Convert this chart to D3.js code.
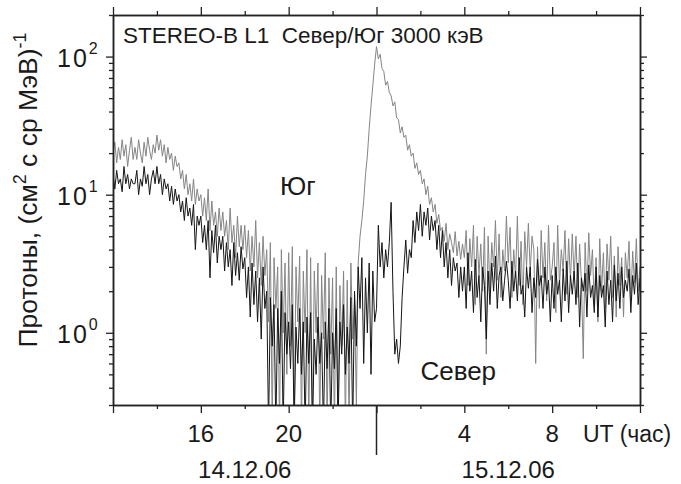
<!DOCTYPE html>
<html>
<head>
<meta charset="utf-8">
<script src="https://cdn.jsdelivr.net/npm/d3@7"></script>
<style>
  body { margin: 0; background: #fff; }
  svg text { font-family: "Liberation Sans", Arial, sans-serif; fill: #1a1a1a; white-space: pre; }
</style>
</head>
<body>
<div id="chart"></div>
<script>
// time grid: 5-minute samples from 12:00 UT 14.12.06 to 12:00 UT 15.12.06
var startTime = Date.UTC(2006, 11, 14, 12, 0);
var stepMin = 5;

// Юг (south) - grey trace, one row per hour
var southValues = [
  20, 24, 17, 22, 18, 25, 19, 23, 16, 21, 26, 18,          // 12 h
  22, 18, 25, 20, 17, 24, 19, 26, 21, 18, 23, 20,          // 13 h
  27, 21, 25, 19, 23, 17, 22, 18, 20, 15, 19, 16,          // 14 h
  17, 13, 15, 11, 14, 10, 12, 9, 13, 8.5, 11, 9,           // 15 h
  10, 7, 9.5, 6.5, 11, 5.5, 9, 6, 7.5, 5, 8, 5.5,          // 16 h
  7.5, 5, 6.5, 4, 8, 4.5, 6, 3.5, 7, 4.2, 6, 4,            // 17 h
  6, 3.5, 5.5, 2.8, 5, 3, 6.5, 2.5, 4.5, 2.2, 5, 2.6,      // 18 h
  4, 1.2, 4.5, 0.2, 3.5, 1.5, 3, 0.2, 4, 1, 3.2, 0.5,      // 19 h
  3.8, 0.8, 4.2, 0.2, 3, 1.2, 3.6, 0.2, 2.8, 1, 4, 0.2,    // 20 h
  3.5, 0.2, 2.8, 1, 3.2, 0.2, 2.6, 0.9, 3.8, 0.2, 2.5, 0.7, // 21 h
  2.5, 0.2, 3, 0.2, 2.2, 0.8, 2.8, 0.2, 2.4, 0.2, 3.2, 0.9, // 22 h
  1.7, 0.3, 3.2, 5, 6.5, 9, 14, 19, 30, 44, 62, 88,        // 23 h
  118, 96, 104, 82, 78, 62, 66, 55, 52, 44, 47, 36,        // 00 h
  35, 28, 31, 26, 27, 21, 23, 19, 20, 15.5, 17, 14,        // 01 h
  15, 12, 13, 10, 11.5, 8.5, 9.5, 7.5, 8.5, 6.2, 7.2, 5.5, // 02 h
  5.8, 4.6, 6.2, 4, 5.2, 4.5, 3.8, 5.4, 3.6, 4.6, 3.4, 4.4, // 03 h
  3.5, 5.5, 2.2, 4.8, 3, 6, 1.6, 5, 2.6, 4.4, 2, 5.8,      // 04 h
  0.7, 5, 2, 4.5, 3, 6.5, 2.4, 5.2, 1.8, 4, 2.8, 7,        // 05 h
  3.2, 5.8, 1.8, 4, 2.5, 7, 2.2, 4.6, 1.6, 5.4, 3, 6.2,    // 06 h
  2.8, 5, 4, 0.6, 4.2, 1.5, 5.5, 2.5, 4.5, 1.7, 6, 2.4,    // 07 h
  3, 4.5, 1.4, 6, 2.2, 4, 2.8, 5.5, 1.9, 4.8, 2.4, 5.2,    // 08 h
  2.5, 5, 1.8, 4.4, 2.3, 0.65, 4.5, 2, 5.3, 2.6, 4, 1.6,   // 09 h
  3.5, 1.2, 4.8, 2, 3.8, 1.5, 4.4, 2.4, 5, 1.8, 3.6, 1.3,  // 10 h
  4.2, 2.2, 3.5, 1.3, 3.8, 2.5, 4.6, 1.7, 3.9, 2.3, 4.8, 2, // 11 h
  3
];

// Север (north) - black trace
var northValues = [
  14, 11, 15, 12, 13, 10.5, 16, 12, 14, 11, 13, 12,        // 12 h
  12, 15, 10, 13, 11.5, 16, 12, 14, 10, 13, 15, 12,        // 13 h
  16, 12, 14, 10, 13, 11, 12, 9, 11.5, 8.5, 11, 9,         // 14 h
  10, 7.5, 9, 6.5, 9.5, 7, 8, 6, 8.5, 4, 7, 6,             // 15 h
  7, 4.5, 6, 4, 6.5, 2.5, 5.5, 3.8, 6, 3.2, 5, 4,          // 16 h
  5, 2.8, 4.5, 3, 4, 2.2, 4.5, 2.6, 3.8, 2.4, 4.2, 2.9,    // 17 h
  3.5, 1.8, 3, 1.3, 3.2, 1.6, 2.8, 1.2, 2.5, 0.9, 3, 1.5,  // 18 h
  2, 0.2, 1.8, 0.8, 1.6, 0.2, 1.5, 0.6, 2, 0.2, 1.4, 0.7,  // 19 h
  1.2, 0.55, 1.6, 0.2, 1.1, 0.6, 1.5, 0.5, 1.2, 0.2, 1.3, 0.6, // 20 h
  1.4, 0.2, 0.9, 0.5, 1.3, 0.6, 1, 0.2, 1.2, 0.55, 1.5, 0.2,   // 21 h
  1, 0.55, 1.5, 0.2, 1.2, 0.7, 1.6, 0.5, 1.1, 0.6, 1.8, 0.2,   // 22 h
  2, 0.8, 3, 1.5, 3.5, 0.6, 2.5, 1, 3.2, 0.5, 2.8, 1.2,    // 23 h
  1.5, 6, 3, 4.5, 2.5, 4, 3, 4.5, 8.8, 2, 0.7, 0.9,        // 00 h
  0.6, 0.8, 1.8, 3, 4.7, 2.7, 4, 3.5, 6.5, 4.5, 7.5, 5.5,  // 01 h
  8.5, 5, 7.5, 6, 8, 4.7, 7, 5.5, 6.5, 4, 6, 3.5,          // 02 h
  5.5, 3, 4.5, 2.5, 4, 2.2, 3.5, 2.8, 3.2, 1.8, 3, 2,      // 03 h
  3, 1.5, 3.8, 2, 2.8, 1.4, 3.4, 1.8, 2.6, 1.2, 3, 2.2,    // 04 h
  0.9, 2.8, 1.6, 3.2, 2, 3.6, 1.5, 2.6, 3, 1.7, 2.4, 3.3,  // 05 h
  2.4, 1.5, 3.3, 2, 2.8, 1.7, 3.5, 1.9, 2.2, 1.3, 3, 2.1,  // 06 h
  3, 1.4, 2.5, 1.8, 3.4, 2.2, 2.6, 1.5, 3, 1.9, 2.4, 1.2,  // 07 h
  2.6, 1.5, 3, 1.9, 2.4, 1.2, 2.9, 1.7, 3.3, 1.4, 2.6, 1.9, // 08 h
  2.8, 1.6, 3.2, 1.1, 2.5, 2, 2.7, 1.3, 3.1, 1.8, 2.2, 1.4, // 09 h
  3, 1.3, 2.6, 1.8, 2.2, 1.1, 2.8, 1.6, 2.4, 1.2, 3.1, 1.7, // 10 h
  2.7, 1.5, 3, 1.8, 2.4, 2, 2.9, 1.4, 2.6, 1.9, 3.2, 1.6,  // 11 h
  2.5
];

var hourLabels = [16, 20, 4, 8];
var dateLabels = ["14.12.06", "15.12.06"];
var yDecades = [0, 1, 2];

var W = 681, H = 484;
var margin = { top: 15, right: 41, bottom: 79, left: 113 };
var width = W - margin.left - margin.right,
  height = H - margin.top - margin.bottom;

var svg = d3.select("#chart").append("svg")
  .attr("width", W).attr("height", H);
var g = svg.append("g")
  .attr("transform", "translate(" + margin.left + "," + margin.top + ")");

var t0 = new Date(startTime), t1 = new Date(startTime + 24 * 3600000);
var x = d3.scaleUtc().domain([t0, t1]).range([0, width]);
var y = d3.scaleLog().domain([0.3, 200]).range([height, 0]);

var times = southValues.map(function(d, i) { return new Date(startTime + i * stepMin * 60000); });

g.append("clipPath").attr("id", "clip")
  .append("rect").attr("width", width).attr("height", height);

var line = d3.line()
  .x(function(d) { return x(d.t); })
  .y(function(d) { return y(Math.max(d.v, 0.05)); });

function series(vals) {
  return vals.map(function(v, i) { return { t: times[i], v: v }; });
}

g.append("path").datum(series(southValues))
  .attr("clip-path", "url(#clip)")
  .attr("fill", "none").attr("stroke", "#858585").attr("stroke-width", 1)
  .attr("d", line);
g.append("path").datum(series(northValues))
  .attr("clip-path", "url(#clip)")
  .attr("fill", "none").attr("stroke", "#151515").attr("stroke-width", 1)
  .attr("d", line);

// axes: every 2 h, long ticks every 4 h
var hourTicks = d3.utcHour.every(2).range(t0, new Date(+t1 + 1));
var majorX = hourTicks.filter(function(d) { return d.getUTCHours() % 4 === 0; });
var minorX = hourTicks.filter(function(d) { return d.getUTCHours() % 4 !== 0; });

function styleAxis(sel) {
  sel.select(".domain").attr("stroke", "#222").attr("stroke-width", 1.5);
  sel.selectAll(".tick line").attr("stroke", "#222").attr("stroke-width", 1.3);
}

g.append("g").attr("transform", "translate(0," + height + ")")
  .call(d3.axisBottom(x).tickValues(majorX).tickSize(8).tickSizeOuter(0).tickFormat(""))
  .call(styleAxis);
g.append("g").attr("transform", "translate(0," + height + ")")
  .call(d3.axisBottom(x).tickValues(minorX).tickSize(4).tickSizeOuter(0).tickFormat(""))
  .call(styleAxis);
g.append("g")
  .call(d3.axisTop(x).tickValues(majorX).tickSize(8).tickSizeOuter(0).tickFormat(""))
  .call(styleAxis);
g.append("g")
  .call(d3.axisTop(x).tickValues(minorX).tickSize(4).tickSizeOuter(0).tickFormat(""))
  .call(styleAxis);

// midnight divider
var midnight = new Date(startTime + 12 * 3600000);
g.append("line")
  .attr("x1", x(midnight)).attr("x2", x(midnight))
  .attr("y1", height).attr("y2", height + 50)
  .attr("stroke", "#222").attr("stroke-width", 1.5);

var majorY = yDecades.map(function(e) { return Math.pow(10, e); });
var minorY = y.ticks().filter(function(d) { return majorY.indexOf(d) < 0; });

g.append("g")
  .call(d3.axisLeft(y).tickValues(majorY).tickSize(7).tickSizeOuter(0).tickFormat(""))
  .call(styleAxis);
g.append("g")
  .call(d3.axisLeft(y).tickValues(minorY).tickSize(4).tickSizeOuter(0).tickFormat(""))
  .call(styleAxis);
g.append("g").attr("transform", "translate(" + width + ",0)")
  .call(d3.axisRight(y).tickValues(majorY).tickSize(7).tickSizeOuter(0).tickFormat(""))
  .call(styleAxis);
g.append("g").attr("transform", "translate(" + width + ",0)")
  .call(d3.axisRight(y).tickValues(minorY).tickSize(4).tickSizeOuter(0).tickFormat(""))
  .call(styleAxis);

// y tick labels 10^n
yDecades.forEach(function(e) {
  var t = g.append("text")
    .attr("x", -56).attr("y", y(Math.pow(10, e)) + 10)
    .style("font-size", "25px");
  t.append("tspan").style("letter-spacing", "2px").text("10");
  t.append("tspan").attr("dy", -13).attr("dx", 0).style("font-size", "16px").text(e);
});

// x tick labels
hourLabels.forEach(function(h) {
  var d = new Date(startTime + ((h - 12 + 24) % 24) * 3600000);
  g.append("text")
    .attr("x", x(d)).attr("y", height + 37)
    .attr("text-anchor", "middle")
    .style("font-size", "24px")
    .text(h);
});
g.append("text")
  .attr("x", 470).attr("y", height + 37)
  .style("font-size", "23px")
  .text("UT (час)");

dateLabels.forEach(function(s, i) {
  var d = new Date(startTime + (6 + i * 12) * 3600000);
  g.append("text")
    .attr("x", x(d)).attr("y", height + 73)
    .attr("text-anchor", "middle")
    .style("font-size", "24px")
    .text(s);
});

// title and series labels
g.append("text")
  .attr("x", 10).attr("y", 28)
  .style("font-size", "22.5px")
  .text("STEREO-B L1  Север/Юг 3000 кэВ");
g.append("text")
  .attr("x", x(new Date(startTime + 7.6 * 3600000))).attr("y", 180)
  .style("font-size", "26px")
  .text("Юг");
g.append("text")
  .attr("x", x(new Date(startTime + 14.0 * 3600000))).attr("y", 365)
  .style("font-size", "26px")
  .text("Север");

// y axis title
var yt = svg.append("text")
  .attr("transform", "translate(37,190) rotate(-90)")
  .attr("text-anchor", "middle")
  .style("font-size", "26.5px");
yt.append("tspan").text("Протоны, (см");
yt.append("tspan").attr("dy", -11).style("font-size", "18px").text("2");
yt.append("tspan").attr("dy", 11).text(" с ср МэВ)");
yt.append("tspan").attr("dy", -11).style("font-size", "18px").text("-1");
</script>
</body>
</html>
